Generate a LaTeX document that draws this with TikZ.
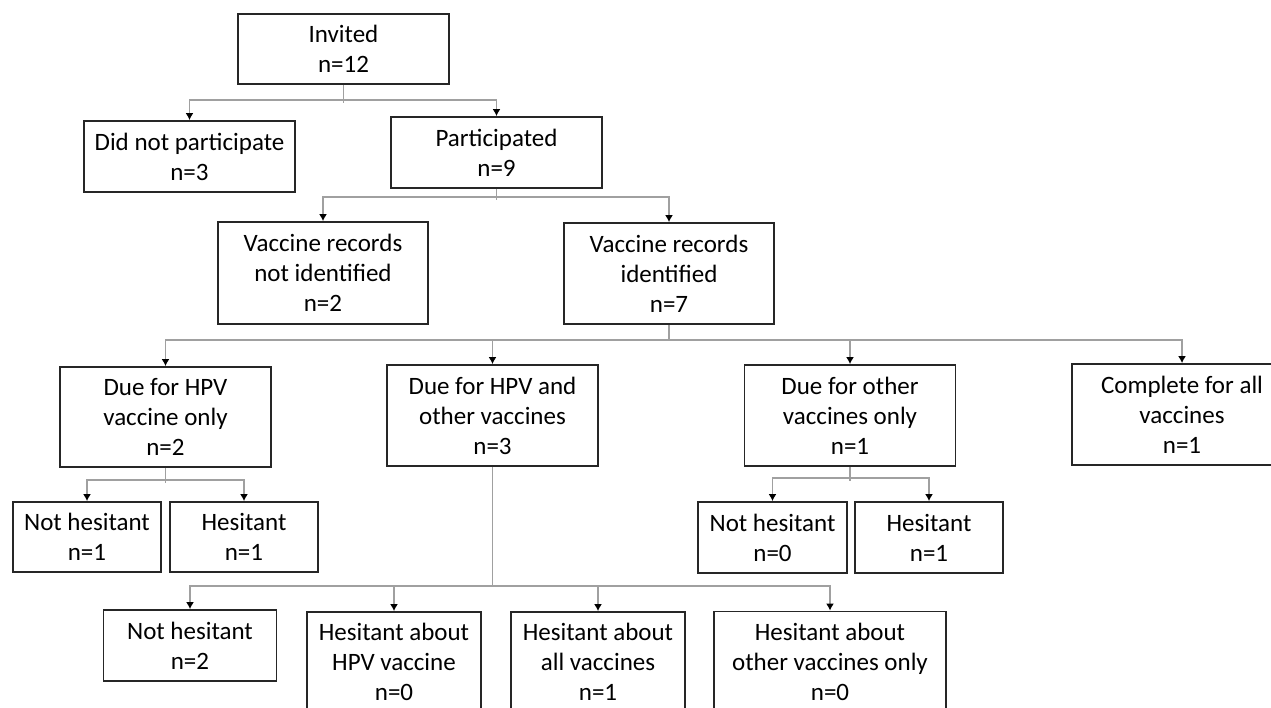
\documentclass[tikz,border=0pt]{standalone}
\usepackage{fontspec}
\setmainfont{Carlito}
\usetikzlibrary{arrows.meta}
\definecolor{boxline}{HTML}{262626}
\definecolor{connline}{HTML}{A0A0A0}
\tikzset{
  box/.style={draw=boxline, line width=1.8pt, rectangle, inner sep=0pt, align=center,
    font=\fontsize{25}{30}\selectfont, text=black},
  conn/.style={draw=connline, line width=1.6pt},
  arr/.style={conn, -{Latex[black,length=7pt,width=8pt]}}
}
\begin{document}
\begin{tikzpicture}[x=1pt,y=-1pt]
\useasboundingbox[fill=white] (0,0) rectangle (1271,708);
% level 0
\node[box, minimum width=211, minimum height=70] (inv) at (343.5,49) {Invited\\n=12};
% level 1
\node[box, minimum width=211, minimum height=71] (dnp) at (189.5,156.5) {Did not participate\\n=3};
\node[box, minimum width=211, minimum height=71] (part) at (496.5,152.5) {Participated\\n=9};
% level 2
\node[box, minimum width=210, minimum height=102] (vrni) at (323,273) {Vaccine records\\not identified\\n=2};
\node[box, minimum width=210, minimum height=101] (vri) at (669,273.5) {Vaccine records\\identified\\n=7};
% level 3
\node[box, minimum width=211, minimum height=100] (dhpv) at (165.5,417) {Due for HPV\\vaccine only\\n=2};
\node[box, minimum width=211, minimum height=101] (dboth) at (492.5,415.5) {Due for HPV and\\other vaccines\\n=3};
\node[box, minimum width=211, minimum height=101] (doth) at (850,415.5) {Due for other\\vaccines only\\n=1};
\node[box, minimum width=220, minimum height=101] (comp) at (1182,414.5) {Complete for all\\vaccines\\n=1};
% level 4
\node[box, minimum width=148, minimum height=70] (nh1) at (87,537) {Not hesitant\\n=1};
\node[box, minimum width=148, minimum height=70] (h1) at (244,537) {Hesitant\\n=1};
\node[box, minimum width=149, minimum height=71] (nh0) at (772.5,537.5) {Not hesitant\\n=0};
\node[box, minimum width=148, minimum height=71] (h1b) at (929,537.5) {Hesitant\\n=1};
% level 5
\node[box, minimum width=173, minimum height=71] (nh2) at (190,645.5) {Not hesitant\\n=2};
\node[box, minimum width=174, minimum height=100] (hhpv) at (394,662) {Hesitant about\\HPV vaccine\\n=0};
\node[box, minimum width=174, minimum height=100] (hall) at (598,662) {Hesitant about\\all vaccines\\n=1};
\node[box, minimum width=232, minimum height=101] (hoth) at (830,662) {Hesitant about\\other vaccines only\\n=0};
% junctions
\coordinate (j1) at (343.5,100);
\coordinate (j1s) at (343.5,103);
\coordinate (j2) at (496.5,197);
\coordinate (j2s) at (496.5,200);
\coordinate (j3) at (669,340);
\coordinate (j4) at (165.5,480);
\coordinate (j4s) at (165.5,483);
\coordinate (j5) at (492.5,586);
\coordinate (j6) at (850,478);
\coordinate (j6s) at (850,481);
% connectors
\draw[conn] (inv.south) -- (j1s);
\draw[arr] (j1) -| (dnp.north);
\draw[arr] (j1) -| (part.north);
\draw[conn] (part.south) -- (j2s);
\draw[arr] (j2) -| (vrni.north);
\draw[arr] (j2) -| (vri.north);
\draw[conn] (vri.south) -- (j3);
\draw[arr] (j3) -| (dhpv.north);
\draw[arr] (j3) -| (dboth.north);
\draw[arr] (j3) -| (doth.north);
\draw[arr] (j3) -| (comp.north);
\draw[conn] (dhpv.south) -- (j4s);
\draw[arr] (j4) -| (nh1.north);
\draw[arr] (j4) -| (h1.north);
\draw[conn] (doth.south) -- (j6s);
\draw[arr] (j6) -| (nh0.north);
\draw[arr] (j6) -| (h1b.north);
\draw[conn] (dboth.south) -- (j5);
\draw[arr] (j5) -| (nh2.north);
\draw[arr] (j5) -| (hhpv.north);
\draw[arr] (j5) -| (hall.north);
\draw[arr] (j5) -| (hoth.north);
\end{tikzpicture}
\end{document}
